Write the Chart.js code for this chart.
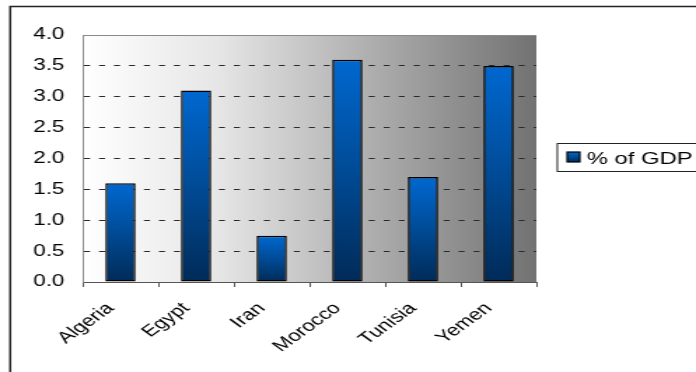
<!DOCTYPE html>
<html>
<head>
<meta charset="utf-8">
<script src="https://cdn.jsdelivr.net/npm/chart.js@4"></script>
<style>
  html, body { margin: 0; padding: 0; background: #fff; overflow: hidden; }
  /* the original picture is stretched sideways, so draw narrow and widen */
  #chart { display: block; transform: scaleX(1.4004); transform-origin: 0 0; }
</style>
</head>
<body>
<canvas id="chart" width="497" height="372"></canvas>
<script>
// data
const countries = ["Algeria", "Egypt", "Iran", "Morocco", "Tunisia", "Yemen"];
const gdpShare = [1.6, 3.1, 0.75, 3.6, 1.7, 3.5];
const seriesLabel = "% of GDP";
const yTicks = [0, 0.5, 1, 1.5, 2, 2.5, 3, 3.5, 4];

const FONT = "'Liberation Sans', Arial, sans-serif";

// vertical blue gradient, one per bar
function barFill(context) {
  const chart = context.chart;
  if (!chart.chartArea) return "#0055aa";
  const y = chart.scales.y;
  const top = y.getPixelForValue(gdpShare[context.dataIndex]);
  const bottom = y.getPixelForValue(0);
  const g = chart.ctx.createLinearGradient(0, top, 0, bottom);
  g.addColorStop(0, "#0068d0");
  g.addColorStop(0.45, "#004e9c");
  g.addColorStop(1, "#002b58");
  return g;
}

// frame, plot background, plot border and the boxed legend
const decorations = {
  id: "decorations",
  beforeDraw(chart) {
    const ctx = chart.ctx;
    const a = chart.chartArea;
    ctx.save();
    ctx.fillStyle = "#ffffff";
    ctx.fillRect(0, 0, chart.width, chart.height);

    const bg = ctx.createLinearGradient(a.left, 0, a.right, 0);
    bg.addColorStop(0, "#ffffff");
    bg.addColorStop(0.3, "#e6e6e6");
    bg.addColorStop(0.6, "#b4b4b4");
    bg.addColorStop(1, "#727272");
    ctx.fillStyle = bg;
    ctx.fillRect(a.left, a.top, a.right - a.left, a.bottom - a.top);

    // outer frame
    ctx.strokeStyle = "#222";
    ctx.lineWidth = 1.5;
    ctx.strokeRect(7.3, 6.5, chart.width + 20, chart.height + 20);
    ctx.restore();
  },
  afterDraw(chart) {
    const ctx = chart.ctx;
    const a = chart.chartArea;
    ctx.save();
    ctx.strokeStyle = "#8a8a8a";
    ctx.lineWidth = 1;
    ctx.beginPath();
    ctx.moveTo(a.left, Math.round(a.top) + 0.5);
    ctx.lineTo(a.right, Math.round(a.top) + 0.5);
    ctx.stroke();

    // legend box
    ctx.strokeStyle = "#222";
    ctx.strokeRect(398, 143.5, 120, 28);
    const sw = ctx.createLinearGradient(0, 152, 0, 162);
    sw.addColorStop(0, "#0068d0");
    sw.addColorStop(1, "#002b58");
    ctx.fillStyle = sw;
    ctx.fillRect(405, 152, 9, 10);
    ctx.strokeStyle = "#000";
    ctx.lineWidth = 1.2;
    ctx.strokeRect(405, 152, 9, 10);
    ctx.fillStyle = "#000";
    ctx.font = "17px " + FONT;
    ctx.textBaseline = "alphabetic";
    ctx.fillText(chart.data.datasets[0].label, 419, 164);
    ctx.restore();
  }
};

new Chart(document.getElementById("chart"), {
  type: "bar",
  data: {
    labels: countries,
    datasets: [{
      label: seriesLabel,
      data: gdpShare,
      backgroundColor: barFill,
      borderColor: "#000",
      borderWidth: 1.5,
      borderSkipped: false,
      barPercentage: 0.4,
      categoryPercentage: 1.0
    }]
  },
  options: {
    responsive: false,
    animation: false,
    layout: { padding: { left: 7, top: 35, right: 114, bottom: 0 } },
    plugins: {
      legend: { display: false },
      tooltip: { enabled: false }
    },
    scales: {
      x: {
        afterFit: (scale) => { scale.height = 90; },
        grid: {
          offset: true,
          drawOnChartArea: false,
          drawTicks: true,
          tickLength: 5,
          color: "#555"
        },
        border: { display: true, color: "#555", width: 1 },
        ticks: {
          minRotation: 45,
          maxRotation: 45,
          padding: 12,
          labelOffset: -7,
          color: "#000",
          font: { family: FONT, size: 16 }
        }
      },
      y: {
        min: 0,
        max: 4,
        afterFit: (scale) => { scale.width = 52; },
        afterBuildTicks: (scale) => { scale.ticks = yTicks.map(v => ({ value: v })); },
        grid: {
          drawTicks: false,
          color: (c) => (c.tick && c.tick.value > 0 && c.tick.value < 4) ? "#2a2a2a" : "rgba(0,0,0,0)",
          lineWidth: 1
        },
        border: { display: true, color: "#8a8a8a", width: 1, dash: [4.3, 6.4] },
        ticks: {
          padding: 13,
          color: "#000",
          font: { family: FONT, size: 16 },
          callback: (v) => Number(v).toFixed(1)
        }
      }
    }
  },
  plugins: [decorations]
});
</script>
</body>
</html>
